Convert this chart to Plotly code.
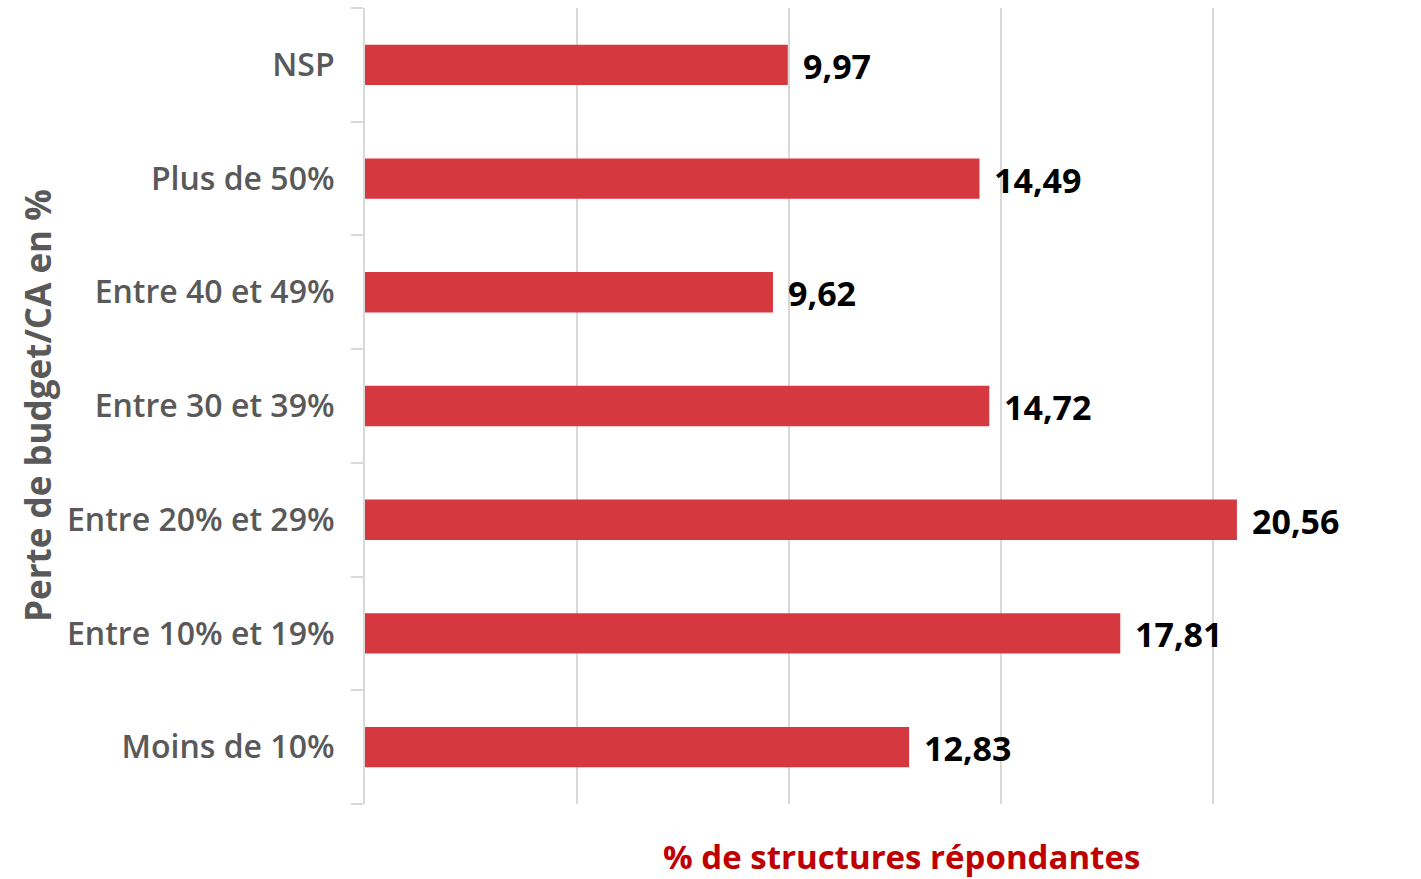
import plotly.graph_objects as go

categories = ["Moins de 10%", "Entre 10% et 19%", "Entre 20% et 29%", "Entre 30 et 39%",
              "Entre 40 et 49%", "Plus de 50%", "NSP"]
values = [12.83, 17.81, 20.56, 14.72, 9.62, 14.49, 9.97]
labels = [f"{v:.2f}".replace(".", ",") for v in values]

W, H = 1421, 879
L, R, T, B = 365, 17, 8, 75

fig = go.Figure()
fig.add_trace(go.Bar(
    x=values, y=categories, orientation="h",
    marker=dict(color="#d5393f", line=dict(width=0)),
    hoverinfo="skip",
))

for v, c, t in zip(values, categories, labels):
    fig.add_annotation(x=v, y=c, text=t, xref="x", yref="y", showarrow=False,
                       xanchor="left", yanchor="middle", xshift=13, yshift=-1,
                       font=dict(family="Open Sans", size=34, color="#000000", weight="bold"))

fig.add_annotation(text="Perte de budget/CA en %", xref="paper", yref="paper",
                   x=(37 - L) / (W - L - R), y=(H - B - 406) / (H - T - B),
                   textangle=-90, showarrow=False, xanchor="center", yanchor="middle",
                   font=dict(family="Open Sans", size=35, color="#595959", weight="bold"))
fig.add_annotation(text="% de structures répondantes", xref="paper", yref="paper",
                   x=(901 - L) / (W - L - R), y=-(857 - (H - B)) / (H - T - B),
                   showarrow=False, xanchor="center", yanchor="middle",
                   font=dict(family="Open Sans", size=33, color="#c00000", weight="bold"))

fig.update_layout(
    width=W, height=H,
    margin=dict(l=L, r=R, t=T, b=B),
    plot_bgcolor="white", paper_bgcolor="white",
    bargap=0.645, showlegend=False,
    xaxis=dict(range=[0, 24.5], dtick=5, showgrid=True, gridcolor="#d9d9d9", gridwidth=2,
               showticklabels=False, zeroline=False, showline=False, ticks=""),
    yaxis=dict(showline=True, linecolor="#d9d9d9", linewidth=2,
               ticks="outside", tickson="boundaries", ticklen=12, tickcolor="#d9d9d9", tickwidth=2,
               ticklabelstandoff=22,
               tickfont=dict(family="Open Sans", size=32, color="#595959", weight=600),
               showgrid=False),
)

fig.write_html("out.html", config={"displayModeBar": False},
               post_script="document.body.style.margin='0';")
